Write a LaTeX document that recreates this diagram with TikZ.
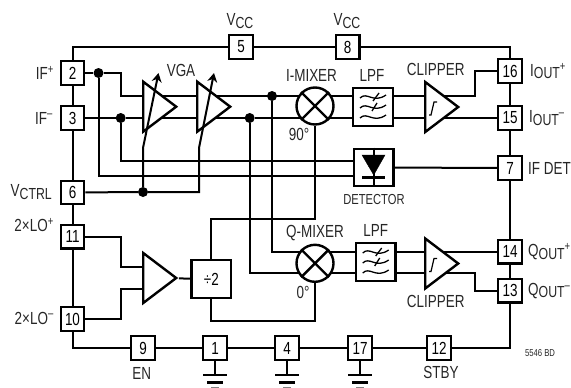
\documentclass[tikz,border=0pt]{standalone}
\usepackage{fontspec}
\setmainfont[FakeStretch=0.77]{Liberation Sans}
\usetikzlibrary{arrows.meta, shapes.geometric, backgrounds}

\newcommand{\lowtext}[1]{\raisebox{-2.5pt}{\fontsize{16}{16}\selectfont #1}}

\tikzset{
	wire/.style={draw, line width=2pt},
	pin/.style={draw, fill=white, line width=2.4pt, minimum size=23.5pt, inner sep=0pt, font=\fontsize{17.5}{17.5}\selectfont},
	lbl/.style={inner sep=0pt, text=black!85, font=\fontsize{17.5}{17.5}\selectfont},
	block/.style={draw, fill=white, line width=2.4pt, minimum width=39.5pt, minimum height=37.5pt, inner sep=0pt, font=\fontsize{17.5}{17.5}\selectfont},
	amp/.style={draw, fill=white, line width=2.4pt, isosceles triangle, isosceles triangle stretches, minimum width=50pt, minimum height=33pt, inner sep=0pt, anchor=west},
	dot/.style={circle, fill=black, minimum size=10pt, inner sep=0pt},
	mixer/.style={draw, circle, fill=white, line width=2.4pt, minimum size=37pt, inner sep=0pt},
	filtersym/.pic={
		\foreach \dy in {-10,0,10}
			\draw[line width=1.3pt] (-13,\dy+1) .. controls (-6,\dy-6) and (0,\dy+7) .. (13,\dy-2);
		\draw[line width=1.3pt] (6,-14) -- (0,-6);
		\draw[line width=1.3pt] (4,-4) -- (-1,4);
	},
	clipsym/.pic={
		\draw[line width=1.2pt] (-4,6) -- (-2,6) -- (1,-7) -- (4,-7);
	},
	gndsym/.pic={
		\draw[line width=2.6pt] (-12,0) -- (12,0);
		\draw[line width=2.6pt] (-8,7.5) -- (8,7.5);
		\draw[line width=1.5pt, black!50] (-4,12.5) -- (4,12.5);
	}
}

\begin{document}
\begin{tikzpicture}[x=1pt, y=-1pt]
	\useasboundingbox (0,0) rectangle (571,388);
	% rows of the signal path
	\coordinate (iup) at (0,96);
	\coordinate (idn) at (0,118);
	\coordinate (qup) at (0,251.7);
	\coordinate (qdn) at (0,273.3);

	% pins
	\node[pin] (pin2) at (72.5,73) {2};
	\node[pin] (pin3) at (72.5,118) {3};
	\node[pin] (pin6) at (72.5,192.5) {6};
	\node[pin] (pin11) at (72.5,236.7) {11};
	\node[pin] (pin10) at (72.5,319) {10};
	\node[pin] (pin5) at (241,47) {5};
	\node[pin] (pin8) at (347.7,47) {8};
	\node[pin] (pin16) at (510,71) {16};
	\node[pin] (pin15) at (510,118) {15};
	\node[pin] (pin7) at (510,168) {7};
	\node[pin] (pin14) at (510,251.7) {14};
	\node[pin] (pin13) at (510,290.7) {13};
	\node[pin] (pin9) at (143,348) {9};
	\node[pin] (pin1) at (215,348) {1};
	\node[pin] (pin4) at (287,348) {4};
	\node[pin] (pin17) at (360,348) {17};
	\node[pin] (pin12) at (439,348) {12};

	% blocks
	\node[amp] (vga1) at (142,106.7) {};
	\node[amp] (vga2) at (196,106.7) {};
	\node[amp] (clipI) at (424,107) {};
	\node[amp] (clipQ) at (424,263.5) {};
	\node[amp] (loamp) at (142,278) {};
	\node[mixer] (mixI) at (315,106) {};
	\node[mixer] (mixQ) at (315,263.3) {};
	\node[block] (lpfI) at (373,107) {};
	\node[block] (lpfQ) at (375.7,262) {};
	\node[block] (det) at (373.7,167.5) {};
	\node[block] (div) at (211.3,279) {÷2};

	% dots
	\node[dot] (dotA) at (98.5,73) {};
	\node[dot] (dotB) at (120.7,118) {};
	\node[dot] (dotC) at (249.7,118) {};
	\node[dot] (dotD) at (272,96) {};
	\node[dot] (dotE) at (143,192) {};

	\begin{scope}[on background layer]
		% frame
		\draw[wire] (pin2) |- (pin5) -- (pin8) -| (pin16);
		\draw[wire] (pin16) -- (pin15) -- (pin7) -- (pin14) -- (pin13) |- (pin12);
		\draw[wire] (pin12) -- (pin17) -- (pin4) -- (pin1) -- (pin9) -| (pin10);
		\draw[wire] (pin10) -- (pin11) -- (pin6) -- (pin3) -- (pin2);
		% I path
		\draw[wire] (pin2) -- (dotA) -- (120.7,73) |- (vga1 |- iup) -- (mixI |- iup);
		\draw[wire] (pin3) -- (dotB) -- (dotC) -- (mixI |- idn);
		\draw[wire] (mixI |- iup) -- (clipI |- iup) -- (475,96) |- (pin16);
		\draw[wire] (mixI |- idn) -- (pin15);
		% detector inputs and output
		\draw[wire] (dotB) |- (det.west |- 0,161);
		\draw[wire] (dotA) |- (det.west |- 0,176);
		\draw[wire] (det) -- (pin7);
		% control
		\draw[wire] (pin6) -- (dotE) -- (199,192) -- (199,148);
		% Q path
		\draw[wire] (dotD) |- (mixQ |- qup) -- (clipQ |- qup) -- (pin14);
		\draw[wire] (dotC) |- (mixQ |- qdn) -- (475,273.3) |- (pin13);
		% LO path
		\draw[wire] (pin11) -- (120.7,236.7) |- (loamp |- 0,266.7);
		\draw[wire] (pin10) -- (120.7,319) |- (loamp |- 0,289);
		\draw[wire] (loamp) -- (div);
		\draw[wire] (div) |- (mixI |- 0,219.3) -- (mixI);
		\draw[wire] (div) |- (mixQ |- 0,321) -- (mixQ);
		% grounds
		\coordinate (gnd1) at (215,375);
		\coordinate (gnd4) at (287,375);
		\coordinate (gnd17) at (360,375);
		\draw[wire] (pin1) -- (gnd1);
		\draw[wire] (pin4) -- (gnd4);
		\draw[wire] (pin17) -- (gnd17);
	\end{scope}

	\pic at (gnd1) {gndsym};
	\pic at (gnd4) {gndsym};
	\pic at (gnd17) {gndsym};

	% gain control arrows
	\draw[line width=2pt, -{Stealth[length=9pt,width=10pt]}] (dotE) -- (143,148) -- (158.5,73);
	\draw[line width=2pt, -{Stealth[length=9pt,width=10pt]}] (199,148) -- (214,73);

	% mixer crosses
	\draw[line width=2.4pt] (mixI.45) -- (mixI.225) (mixI.135) -- (mixI.315);
	\draw[line width=2.4pt] (mixQ.45) -- (mixQ.225) (mixQ.135) -- (mixQ.315);

	\pic at (lpfI) {filtersym};
	\pic at (lpfQ) {filtersym};
	\pic at (433,109) {clipsym};
	\pic at (433,265.5) {clipsym};

	% diode
	\draw[line width=2pt] (det.north) -- (det.south);
	\draw[fill=black, draw=black] (362,155) -- (385,155) -- (373.7,175) -- cycle;
	\draw[line width=2.4pt] (362,177.5) -- (385,177.5);

	% labels
	\node[lbl] (vcc1) at (240,21) {V\lowtext{CC}};
	\node[lbl] (vcc2) at (347,21) {V\lowtext{CC}};
	\node[lbl, anchor=east] (ifp) at (54,73) {IF\textsuperscript{+}};
	\node[lbl, anchor=east] (ifm) at (53,118) {IF\textsuperscript{–}};
	\node[lbl, anchor=east] (vctrl) at (52,192) {V\lowtext{CTRL}};
	\node[lbl, anchor=east] (lop) at (54,225) {2×LO\textsuperscript{+}};
	\node[lbl, anchor=east] (lom) at (54,318) {2×LO\textsuperscript{–}};
	\node[lbl] (vgatxt) at (181,70) {VGA};
	\node[lbl] (imix) at (311.5,75) {I-MIXER};
	\node[lbl] (lpf1) at (372,75) {LPF};
	\node[lbl] (clip1) at (435.7,69) {CLIPPER};
	\node[lbl] (deg90) at (299,134) {90°};
	\node[lbl, font=\fontsize{14.5}{14.5}\selectfont] (dettxt) at (374,200) {DETECTOR};
	\node[lbl] (qmix) at (315,233) {Q-MIXER};
	\node[lbl] (lpf2) at (375.7,230.7) {LPF};
	\node[lbl] (deg0) at (303,292.7) {0°};
	\node[lbl] (clip2) at (435.7,301.7) {CLIPPER};
	\node[lbl] (entxt) at (141.7,373) {EN};
	\node[lbl] (stby) at (441,372.7) {STBY};
	\node[lbl, anchor=west] (ioutp) at (530,71) {I\lowtext{OUT}\textsuperscript{+}};
	\node[lbl, anchor=west] (ioutm) at (529,118) {I\lowtext{OUT}\textsuperscript{–}};
	\node[lbl, anchor=west] (ifdet) at (528,168) {IF DET};
	\node[lbl, anchor=west] (qoutp) at (528,251.7) {Q\lowtext{OUT}\textsuperscript{+}};
	\node[lbl, anchor=west] (qoutm) at (528,291) {Q\lowtext{OUT}\textsuperscript{–}};
	\node[lbl, font=\fontsize{10}{10}\selectfont] (partno) at (540,353.3) {5546 BD};
\end{tikzpicture}
\end{document}
